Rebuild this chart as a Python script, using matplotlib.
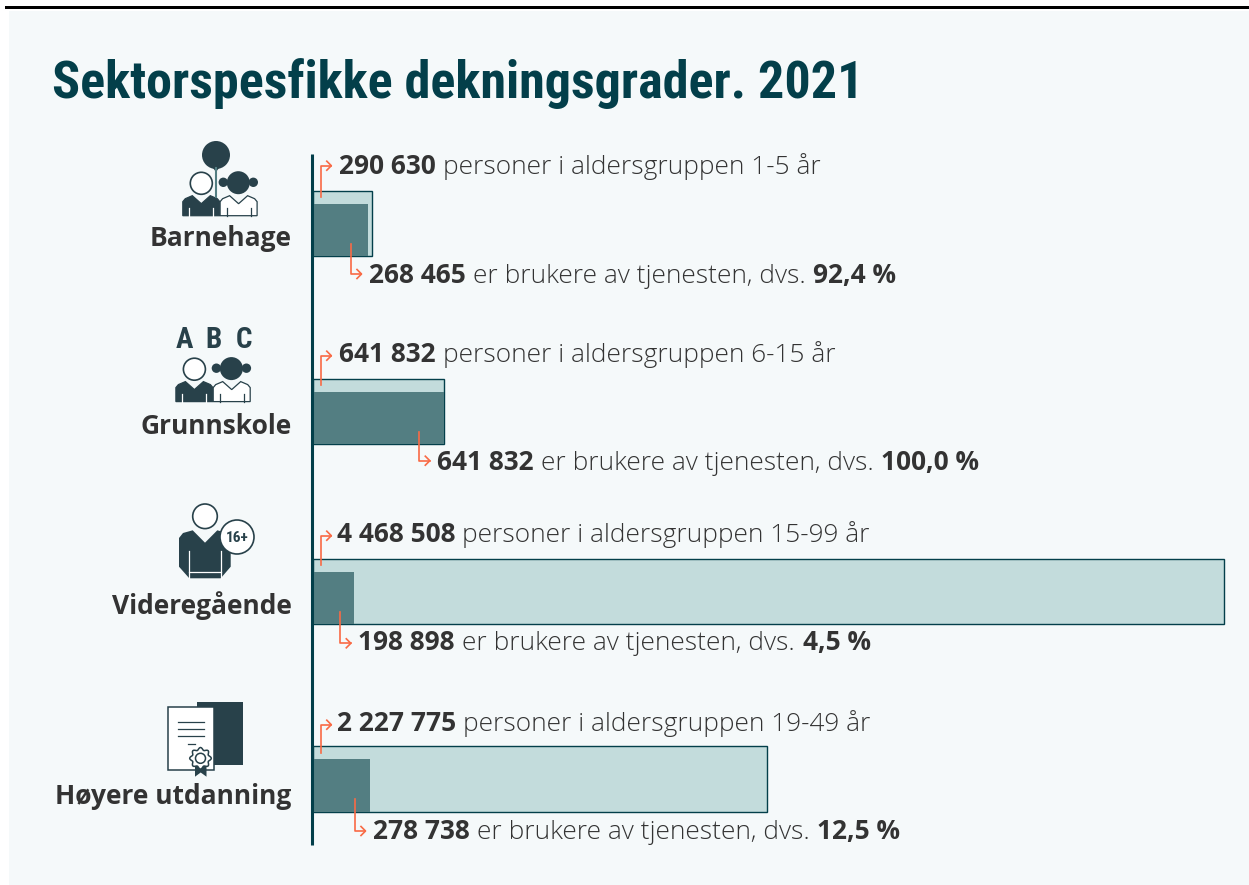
import numpy as np
import matplotlib
matplotlib.use("Agg")
import matplotlib.pyplot as plt
from matplotlib.patches import Rectangle, Circle, Polygon

# Values
sectors = ["Barnehage", "Grunnskole", "Videregående", "Høyere utdanning"]
population = [290630, 641832, 4468508, 2227775]
users = [268465, 641832, 198898, 278738]
pop_labels = ["290 630", "641 832", "4 468 508", "2 227 775"]
user_labels = ["268 465", "641 832", "198 898", "278 738"]
age_groups = ["1-5", "6-15", "15-99", "19-49"]
shares = ["92,4 %", "100,0 %", "4,5 %", "12,5 %"]
title = "Sektorspesfikke dekningsgrader. 2021"

W, H = 1249, 885
DARK = "#033f4a"
ICON = "#28414a"
LIGHT = "#c3dcdc"
MID = "#537e82"
ORANGE = "#f96a45"
TEXT = "#333333"
PANEL = "#f5f9fa"
FONT = "Open Sans"
NARROW = ["Roboto Condensed", "Liberation Sans Narrow", "Roboto"]

# layout in pixels
bar_tops = [190.7, 378.7, 558.5, 746.3]
bar_h = 65.5
inner_h = 52.5
pop_base = [174, 362, 542, 731]
user_base = [283, 470, 650, 839]
label_base = [246, 434, 614, 804]
pop_x = [339, 339, 337, 337]
user_x = [369, 437, 358.5, 373]
up_arrow_y = [165.7, 355.7, 535.7, 724.7]
low_arrow_x = [351, 419.3, 340.3, 355]
low_arrow_y = [274, 460.7, 643.3, 831]

fig = plt.figure(figsize=(W / 100, H / 100), dpi=100, facecolor="white")

# background layer in pixel coordinates
bg = fig.add_axes([0, 0, 1, 1])
bg.set_xlim(0, W)
bg.set_ylim(H, 0)
bg.axis("off")
bg.add_patch(Rectangle((9, 11), W - 9, H - 11, fc=PANEL, ec="none"))
bg.add_patch(Rectangle((5, 6), W - 5, 3, fc="black", ec="none"))

# bars on a real value scale
ax = fig.add_axes([313 / W, 0, 911 / W, 1])
ax.patch.set_alpha(0)
ax.axis("off")
ax.set_xlim(0, max(population))
ax.set_ylim(H, 0)
ax.barh([t + bar_h / 2 for t in bar_tops], population, height=bar_h,
        color=LIGHT, edgecolor=DARK, linewidth=1.0, clip_on=False)
ax.barh([t + bar_h - inner_h / 2 for t in bar_tops], users, height=inner_h,
        color=MID, edgecolor="none")

fg = fig.add_axes([0, 0, 1, 1])
fg.patch.set_alpha(0)
fg.set_xlim(0, W)
fg.set_ylim(H, 0)
fg.axis("off")
fg.plot([312.5, 312.5], [154, 845], color=DARK, lw=2.2, solid_capstyle="butt")


def arrow(x, y0, y1):
    fg.plot([x, x, x + 10.5], [y0, y1, y1], color=ORANGE, lw=1.2)
    fg.plot([x + 6, x + 10.5, x + 6], [y1 - 4.5, y1, y1 + 4.5], color=ORANGE, lw=1.2)


def text_row(x, y, parts):
    # parts: (string, bold, gap after); each is placed after the previous one
    r = fig.canvas.get_renderer()
    for s, bold, gap in parts:
        t = fg.text(x, y, s, fontsize=18.9, family=FONT, color=TEXT,
                    va="baseline", fontweight="bold" if bold else "light")
        x = fg.transData.inverted().transform(t.get_window_extent(r))[1][0] + gap


for i, name in enumerate(sectors):
    fg.text(291.5, label_base[i], name, ha="right", va="baseline", fontsize=19,
            family=FONT, fontweight="bold", color=TEXT)
    arrow(320.8, bar_tops[i] + 6.5, up_arrow_y[i])
    text_row(pop_x[i], pop_base[i], [(pop_labels[i], True, 7),
                                     (f"personer i aldersgruppen {age_groups[i]} år", False, 0)])
    arrow(low_arrow_x[i], bar_tops[i] + 53, low_arrow_y[i])
    text_row(user_x[i], user_base[i], [(user_labels[i], True, 7),
                                       ("er brukere av tjenesten, dvs.", False, 8),
                                       (shares[i], True, 0)])


def bust(x, y, dark):
    pts = [(-18.5, 6), (-16, 3), (-9, 0), (0, 8), (9, 0), (16, 3), (18.5, 6), (18.5, 20), (-18.5, 20)]
    fg.add_patch(Polygon([(x + a, y + b) for a, b in pts],
                         fc=ICON if dark else "white", ec=ICON, lw=0.9))
    for a in (-12, 12):
        fg.plot([x + a, x + a], [y + 12, y + 20], color="white" if dark else ICON, lw=0.9)


def children(bx, y0):
    # boy and girl side by side; bx is the boy's centre, y0 the top of the shoulders
    bust(bx, y0, True)
    bust(bx + 37.3, y0, False)
    fg.add_patch(Circle((bx, y0 - 12.4), 11, fc="white", ec=ICON, lw=1.2))
    fg.add_patch(Circle((bx + 37, y0 - 13), 11.5, fc=ICON, ec="none"))
    fg.add_patch(Circle((bx + 22, y0 - 13.4), 4.7, fc=ICON, ec="none"))
    fg.add_patch(Circle((bx + 52, y0 - 13.4), 4.7, fc=ICON, ec="none"))


# Barnehage icon
fg.plot([216, 216], [168, 197], color=MID, lw=1.5)
fg.add_patch(Circle((216, 155), 14, fc=ICON, ec="none"))
fg.add_patch(Polygon([(213, 168), (219, 168), (216, 172)], fc=ICON, ec="none"))
children(201.3, 195.7)

# Grunnskole icon
for x, s in zip((184, 213.5, 244), "ABC"):
    fg.text(x, 347.5, s, ha="center", va="baseline", fontsize=21, fontweight="bold",
            color=ICON, family=NARROW)
children(194.4, 381.6)

# Videregående icon
fg.add_patch(Polygon([(179, 538), (183, 533), (192.7, 530.3), (205, 542.7), (217.3, 530.3), (227, 533),
                      (230.7, 538), (230.7, 566.7), (220.7, 578.3), (189.3, 578.3), (179, 566.7)],
                     fc=ICON, ec="none"))
fg.plot([189.3, 189.3], [551, 578], color="white", lw=0.9)
fg.plot([220.7, 220.7], [551, 578], color="white", lw=0.9)
fg.plot([189.3, 220.7], [571.7, 571.7], color="white", lw=0.9)
fg.add_patch(Circle((205, 516.3), 12.3, fc="white", ec=ICON, lw=1.2))
fg.add_patch(Circle((237, 537), 17, fc="white", ec=ICON, lw=1.2))
fg.text(237, 541.5, "16+", ha="center", va="baseline", fontsize=11, fontweight="bold",
        color=ICON, family=NARROW)

# Høyere utdanning icon
fg.add_patch(Rectangle((196.7, 702.3), 46, 63, fc=ICON, ec="none"))
fg.add_patch(Rectangle((168, 706.7), 46, 63.3, fc="white", ec=ICON, lw=1.1))
for y in (722.3, 729, 735.7):
    fg.plot([178.3, 204.3], [y, y], color=ICON, lw=0.9)
fg.plot([187.7, 195], [744.3, 744.3], color=ICON, lw=0.9)
fg.add_patch(Polygon([(195, 764), (206.5, 764), (206.5, 776.7), (200.7, 772.5), (195, 776.7)],
                     fc=ICON, ec="none"))
ang = np.linspace(0, 2 * np.pi, 73)
rad = 9.6 + 1.2 * np.cos(8 * ang)
fg.add_patch(Polygon(np.c_[200.5 + rad * np.cos(ang), 758.3 + rad * np.sin(ang)],
                     fc="white", ec=ICON, lw=1.1))
fg.add_patch(Circle((200.5, 758.3), 5, fc="white", ec=ICON, lw=1.1))

fg.text(52, 98, title, ha="left", va="baseline", fontsize=37.5, fontweight="bold", color=DARK,
        family=NARROW)

fig.savefig("out.png", dpi=100, facecolor="white")
